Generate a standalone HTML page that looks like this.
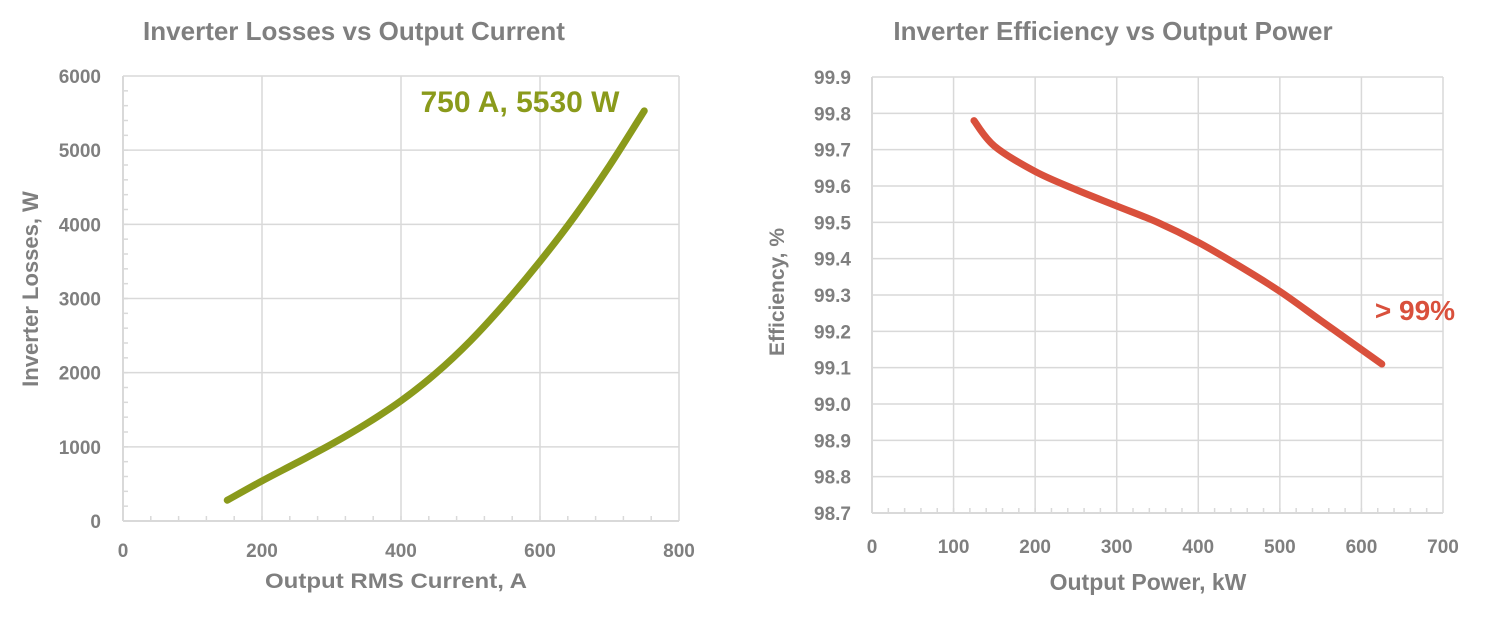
<!DOCTYPE html>
<html><head><meta charset="utf-8"><style>
body{margin:0;background:#fff;}
svg text{font-family:"Liberation Sans",sans-serif;font-weight:bold;fill:#7f7f7f;}
</style></head><body>
<svg id="s" width="1487" height="612" xmlns="http://www.w3.org/2000/svg"></svg>
<script>
const s=document.getElementById('s');let h='';
function L(x1,y1,x2,y2,c,w){h+=`<line x1="${x1}" y1="${y1}" x2="${x2}" y2="${y2}" stroke="${c}" stroke-width="${w}"/>`;}
function T(x,y,t,a,sz,extra){h+=`<text x="${x}" y="${y}" text-anchor="${a}" font-size="${sz}" ${extra||''}>${t}</text>`;}
function smooth(pts){let d=`M${pts[0][0]},${pts[0][1]}`;for(let i=0;i<pts.length-1;i++){const p0=pts[i-1]||pts[i],p1=pts[i],p2=pts[i+1],p3=pts[i+2]||p2;
d+=` C${p1[0]+(p2[0]-p0[0])/6},${p1[1]+(p2[1]-p0[1])/6} ${p2[0]-(p3[0]-p1[0])/6},${p2[1]-(p3[1]-p1[1])/6} ${p2[0]},${p2[1]}`;}return d;}
const g='#d9d9d9';
// Left chart
{const x0=123,x1=679,y0=521,y1=76;const X=v=>x0+(x1-x0)*v/800,Y=v=>y0-(y0-y1)*v/6000;
for(let v=1000;v<=6000;v+=1000)L(x0,Y(v),x1,Y(v),g,1.5);
for(let v=200;v<=800;v+=200)L(X(v),y1,X(v),y0,g,1.5);
for(let v=40;v<800;v+=40)L(X(v),y0,X(v),y0-5,g,1.5);
for(let v=200;v<6000;v+=200)L(x0,Y(v),x0+5,Y(v),g,1.5);
L(x0,y0,x1,y0,g,2);L(x0,y1,x0,y0,g,2);
for(let v=0;v<=6000;v+=1000)T(101,Y(v)+7,v,'end',19);
for(let v=0;v<=800;v+=200)T(X(v),557,v,'middle',19);
T(354,40,'Inverter Losses vs Output Current','middle',26);
T(396,588,'Output RMS Current, A','middle',21,'textLength="262" lengthAdjust="spacingAndGlyphs"');
T(38,289,'Inverter Losses, W','middle',22,'transform="rotate(-90 38 289)"');
const p=[[150,280],[200,540],[250,785],[300,1035],[350,1310],[400,1620],[450,1990],[500,2430],[550,2940],[600,3500],[650,4110],[700,4790],[750,5530]];
h+=`<path fill="none" stroke="#8a9a1b" stroke-width="7" stroke-linecap="round" d="${smooth(p.map(q=>[X(q[0]),Y(q[1])]))}"/>`;
T(520,112,'750 A, 5530 W','middle',30,'style="fill:#8a9a1b"');}
// Right chart
{const x0=872,x1=1443,y0=513,y1=77;const X=v=>x0+(x1-x0)*v/700,Y=v=>y0-(y0-y1)*(v-98.7)/1.2;
for(let i=1;i<=12;i++){const v=98.7+i*0.1;L(x0,Y(v),x1,Y(v),g,1.5);}
for(let v=100;v<=700;v+=100)L(X(v),y1,X(v),y0,g,1.5);
for(let v=20;v<700;v+=20)L(X(v),y0,X(v),y0-5,g,1.5);
L(x0,y0,x1,y0,g,2);L(x0,y1,x0,y0,g,2);
for(let i=0;i<=12;i++){const v=98.7+i*0.1;T(851,Y(v)+7,v.toFixed(1),'end',19);}
for(let v=0;v<=700;v+=100)T(X(v),553,v,'middle',19);
T(1113,40,'Inverter Efficiency vs Output Power','middle',26);
T(1148,590,'Output Power, kW','middle',23);
T(784,292,'Efficiency, %','middle',21,'transform="rotate(-90 784 292)"');
const p=[[125,99.78],[150,99.71],[200,99.64],[250,99.59],[300,99.545],[350,99.5],[400,99.445],[450,99.38],[500,99.31],[550,99.23],[600,99.15],[625,99.11]];
h+=`<path fill="none" stroke="#d9503c" stroke-width="7" stroke-linecap="round" d="${smooth(p.map(q=>[X(q[0]),Y(q[1])]))}"/>`;
T(1415,320,'&gt; 99%','middle',28,'style="fill:#d9503c"');}
s.innerHTML=h;
</script>
</body></html>
